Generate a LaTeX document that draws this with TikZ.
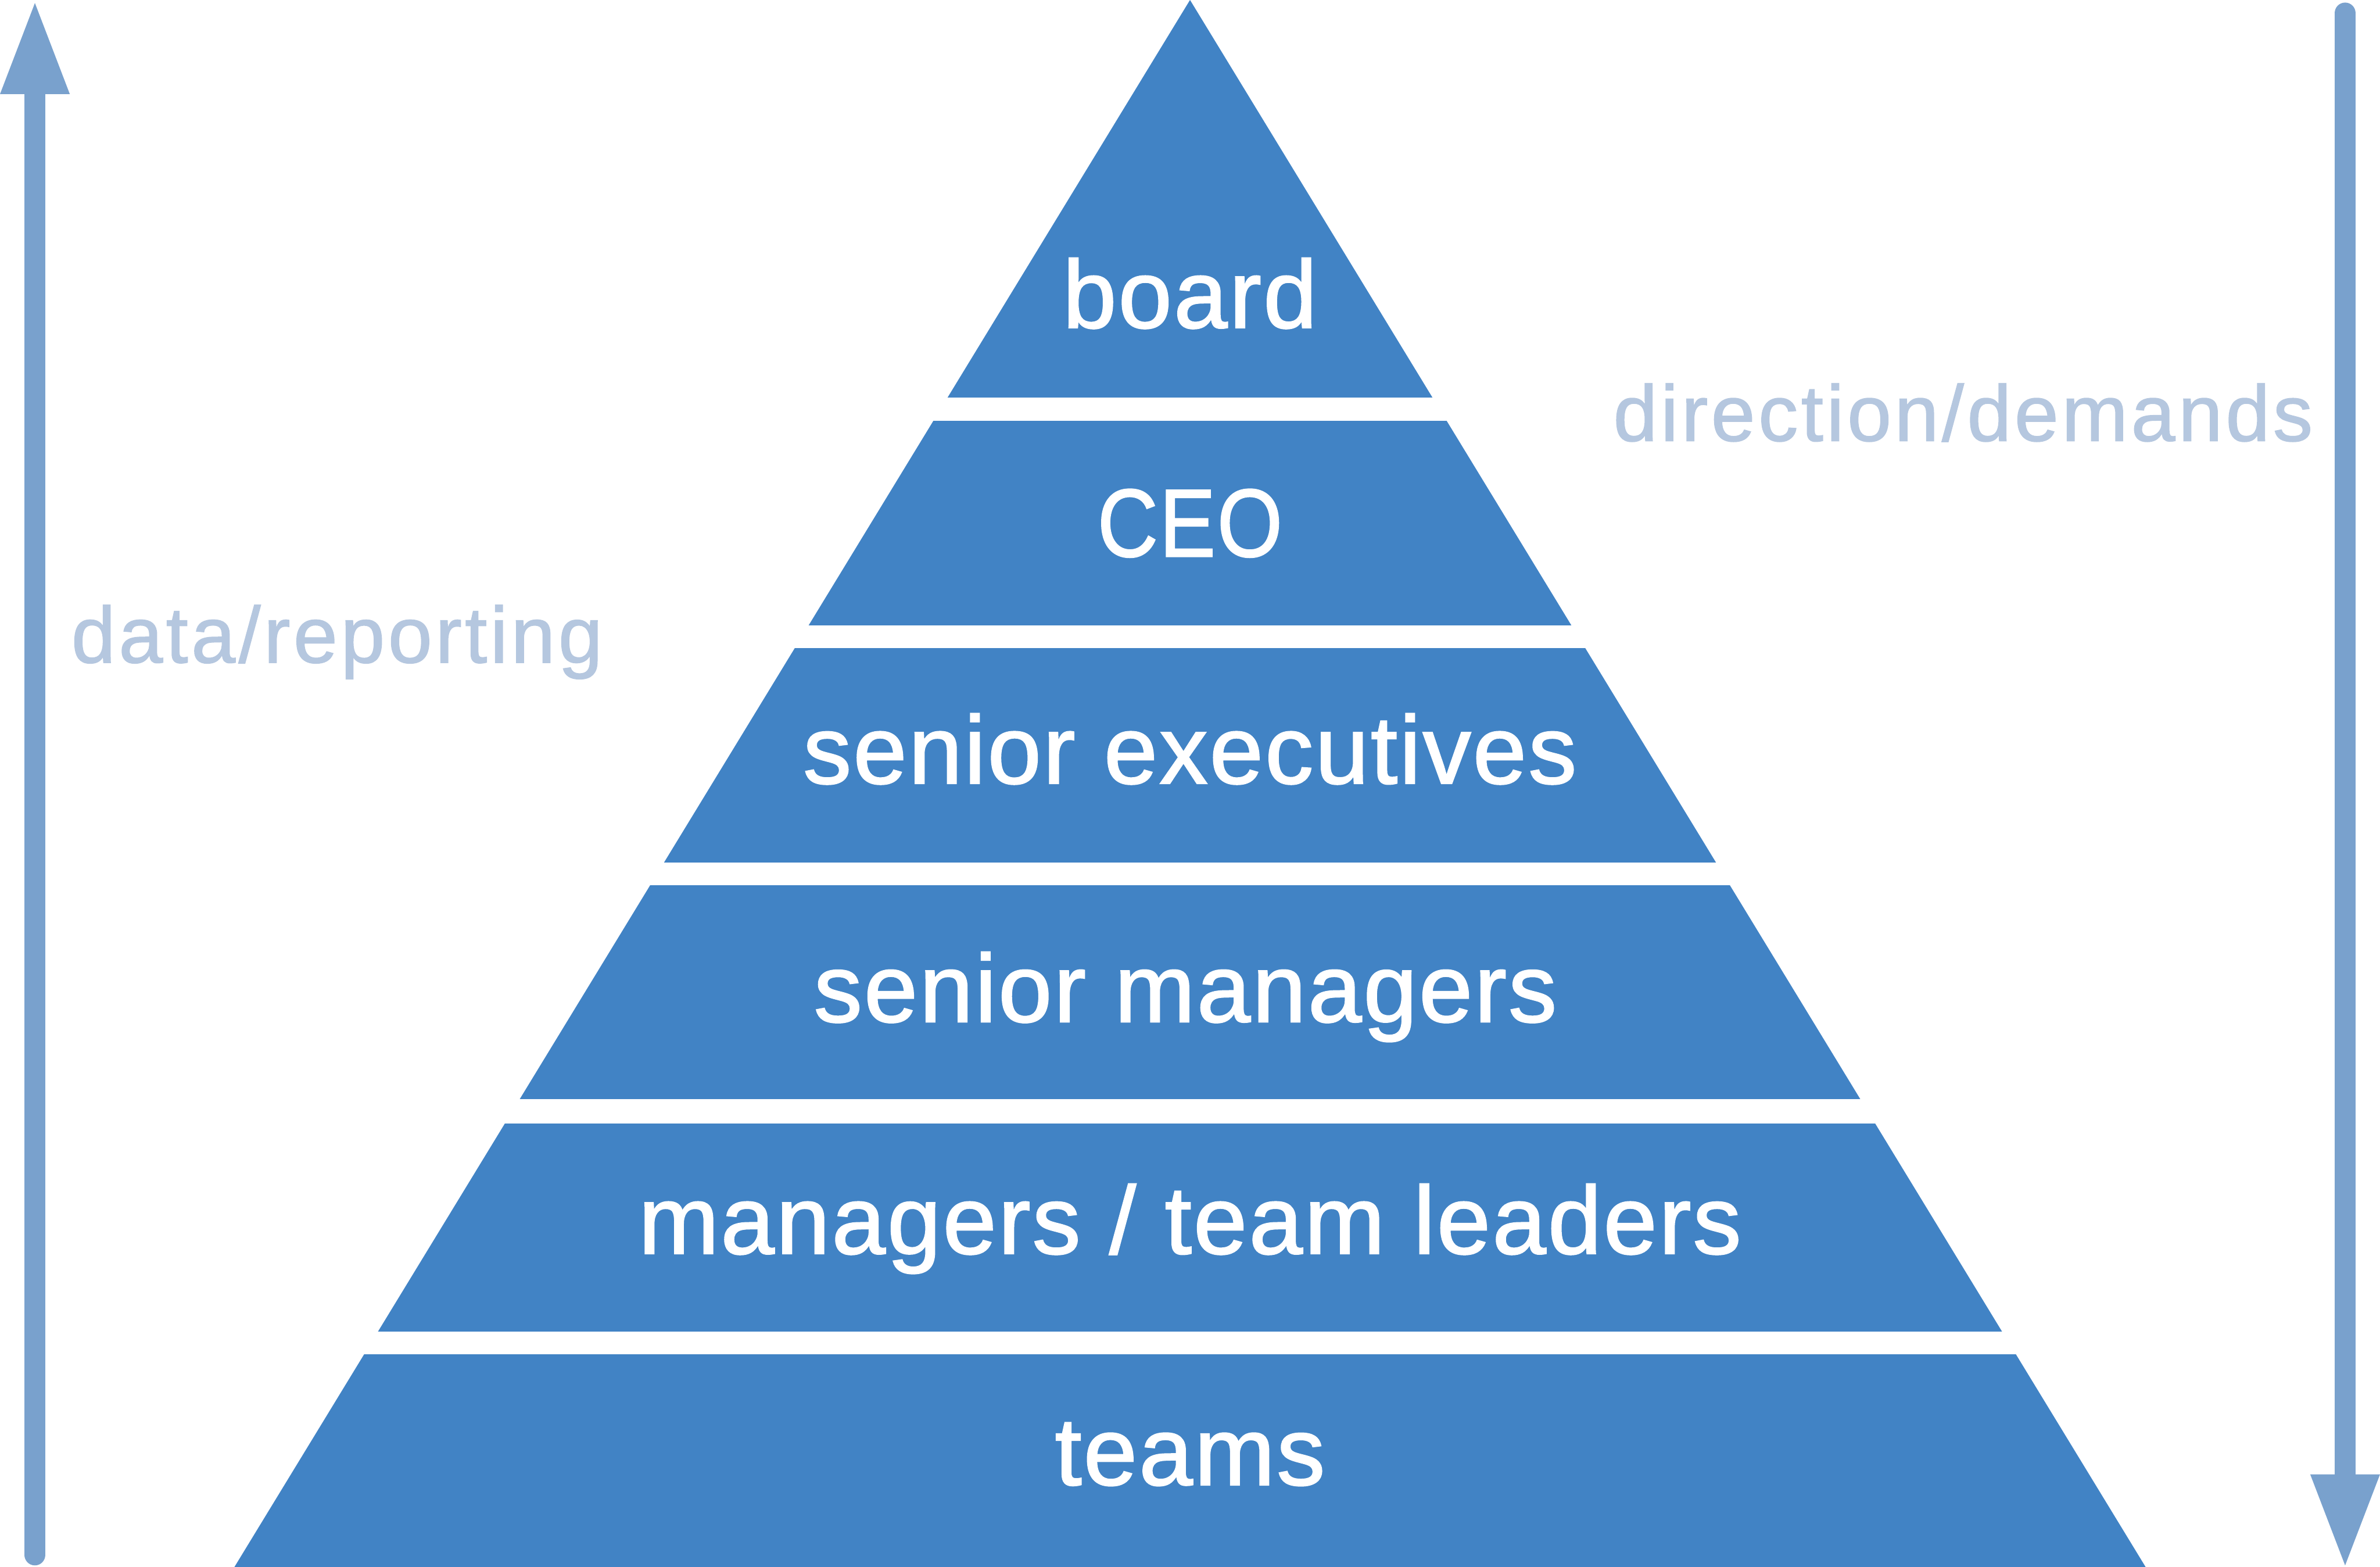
\documentclass[tikz,border=0pt]{standalone}
\usepackage{fontspec}
\setmainfont{Liberation Sans}
\newfontfamily\whitefont[LetterSpace=2,FakeBold=1.5]{Liberation Sans}
\newfontfamily\greyfont[LetterSpace=4,FakeBold=1.2]{Liberation Sans}
\usetikzlibrary{arrows.meta}
\definecolor{pyr}{RGB}{65,131,197}
\definecolor{arrowblue}{RGB}{121,161,205}
\definecolor{paleblue}{RGB}{181,199,223}
\tikzset{
  layer/.style={fill=pyr},
  labelw/.style={font={\whitefont\fontsize{63.5pt}{70pt}\selectfont}, text=white, anchor=base, inner sep=0pt},
  labelg/.style={font={\greyfont\fontsize{52.3pt}{60pt}\selectfont}, text=paleblue, anchor=base, inner sep=0pt},
  flowarrow/.style={draw=arrowblue, line width=14pt, line cap=round,
    -{Triangle[length=60pt,width=46pt,line width=0pt]}}
}
\begin{document}
\begin{tikzpicture}[x=1pt,y=-1pt]
\useasboundingbox (0,0) rectangle (1568,1032);
% pyramid
\begin{scope}
  \clip (784,0) -- (1418.4,1040) -- (149.6,1040) -- cycle;
  \fill[layer] (0,-5) rectangle (1568,262);
  \fill[layer] (0,277) rectangle (1568,412);
  \fill[layer] (0,427) rectangle (1568,568);
  \fill[layer] (0,583) rectangle (1568,724);
  \fill[layer] (0,740) rectangle (1568,877);
  \fill[layer] (0,892) rectangle (1568,1040);
\end{scope}
% labels
\node[labelw] (board) at (784,215.9) {board};
\node[labelw] (ceo) at (784,366.5) {\scalebox{0.87}[1]{CEO}};
\node[labelw] (sexec) at (784,516) {senior executives};
\node[labelw] (smgr) at (781,673) {senior managers};
\node[labelw] (mgr) at (784,825.7) {managers / team leaders};
\node[labelw] (teams) at (784,978) {teams};
\node[labelg] (dirdem) at (1293.3,290.4) {direction/demands};
\node[labelg] (datarep) at (222,436.4) {data/reporting};
% arrows
\coordinate (upfoot) at (23,1024);
\coordinate (uptip) at (23,2);
\coordinate (downstart) at (1545,8.7);
\coordinate (downtip) at (1545,1031);
\draw[flowarrow] (upfoot) -- (uptip);
\draw[flowarrow] (downstart) -- (downtip);
\end{tikzpicture}
\end{document}
